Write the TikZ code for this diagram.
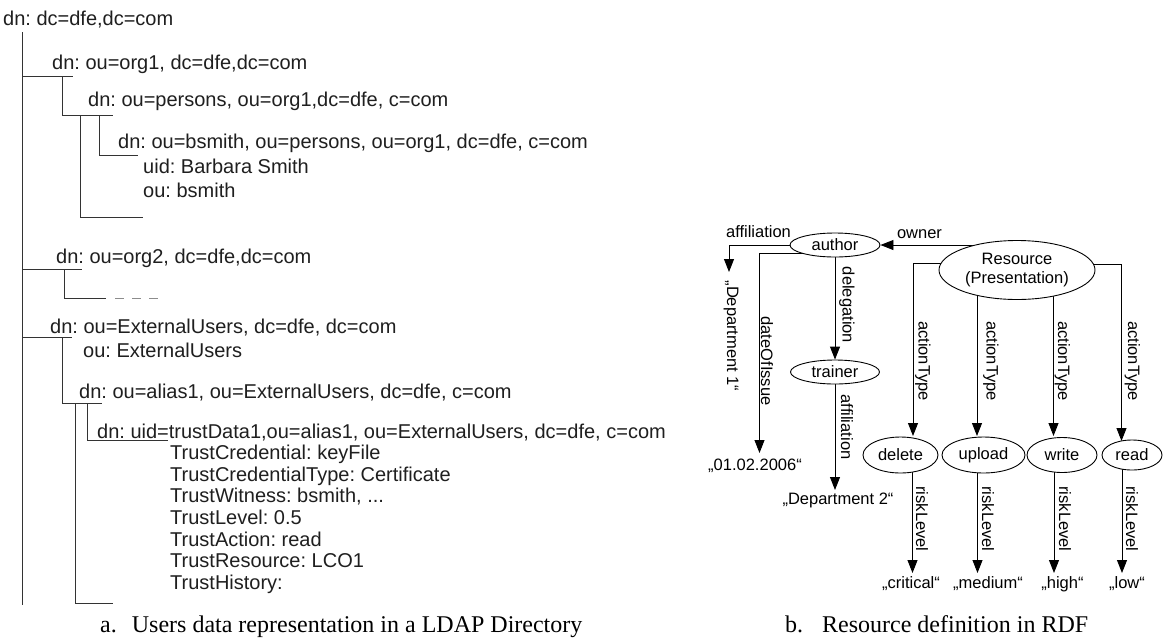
\documentclass[tikz,border=0pt]{standalone}
\usepackage{fontspec}
\setmainfont{Liberation Serif}
\newfontfamily\sansf{Liberation Sans}
\usetikzlibrary{arrows.meta,shapes.geometric,backgrounds}
\frenchspacing
\begin{document}
\begin{tikzpicture}[x=1pt,y=-1pt,
  ltxt/.style={anchor=base west, inner sep=0pt, font=\sansf\frenchspacing\fontsize{20}{24}\selectfont, text=black!88},
  tline/.style={line width=0.9pt, draw=black!80},
  rtxt/.style={inner sep=0pt, font=\sansf\frenchspacing\fontsize{16.5}{19.5}\selectfont},
  rlab/.style={rtxt, rotate=-90},
  ell/.style={ellipse, draw, line width=0.9pt, fill=white, inner sep=0pt, font=\sansf\fontsize{16.5}{19.5}\selectfont},
  arr/.style={line width=0.9pt, -{Triangle[length=13pt,width=10pt]}},
  capt/.style={anchor=base west, inner sep=0pt, font=\frenchspacing\fontsize{24}{28}\selectfont}
]
\begin{scope}[on background layer]
\fill[white] (0,0) rectangle (1163,641);
\end{scope}
\useasboundingbox (0,0) rectangle (1163,641);

% ---------------- left: LDAP tree ----------------
\node[ltxt] (n0) at (3,25) {dn: dc=dfe,dc=com};
\node[ltxt] (n1) at (52,69) {dn: ou=org1, dc=dfe,dc=com};
\node[ltxt] (n2) at (88,106) {dn: ou=persons, ou=org1,dc=dfe, c=com};
\node[ltxt] (n3) at (118,148) {dn: ou=bsmith, ou=persons, ou=org1, dc=dfe, c=com};
\node[ltxt] (n3a) at (143,173) {uid: Barbara Smith};
\node[ltxt] (n3b) at (143,197) {ou: bsmith};
\node[ltxt] (n4) at (56,263) {dn: ou=org2, dc=dfe,dc=com};
\node[ltxt] (n5) at (50,333) {dn: ou=ExternalUsers, dc=dfe, dc=com};
\node[ltxt] (n5a) at (83,357) {ou: ExternalUsers};
\node[ltxt] (n6) at (79,398) {dn: ou=alias1, ou=ExternalUsers, dc=dfe, c=com};
\node[ltxt] (n7) at (97,438) {dn: uid=trustData1,ou=alias1, ou=ExternalUsers, dc=dfe, c=com};
\node[ltxt] (t1) at (170,459) {TrustCredential: keyFile};
\node[ltxt] (t2) at (170,481) {TrustCredentialType: Certificate};
\node[ltxt] (t3) at (170,502) {TrustWitness: bsmith, ...};
\node[ltxt] (t4) at (170,524) {TrustLevel: 0.5};
\node[ltxt] (t5) at (170,546) {TrustAction: read};
\node[ltxt] (t6) at (170,567) {TrustResource: LCO1};
\node[ltxt] (t7) at (170,589) {TrustHistory:};

\draw[tline] (22,32) -- (22,605);
\draw[tline] (22,76) -- (73,76);
\draw[tline] (62,76) -- (62,115) -- (113,115);
\draw[tline] (80,115) -- (80,217) -- (143,217);
\draw[tline] (99,115) -- (99,155) -- (138,155);
\draw[tline] (22,269) -- (82,269);
\draw[tline] (64,269) -- (64,298) -- (106,298);
\draw[tline, draw=black!45, dash pattern=on 9pt off 8pt] (115,298) -- (158,298);
\draw[tline] (22,337) -- (72,337);
\draw[tline] (62,337) -- (62,403) -- (102,403);
\draw[tline] (75,403) -- (75,603) -- (113,603);
\draw[tline] (87,403) -- (87,440) -- (168,440);

\node[capt] (capa) at (100,632) {a.\hspace{15pt}Users data representation in a LDAP Directory};

% ---------------- right: RDF graph ----------------
\node[ell, minimum width=90pt, minimum height=24pt] (author) at (835,245) {author};
\node[ell, minimum width=89pt, minimum height=24pt] (trainer) at (835,372) {trainer};
\node[ell, minimum width=156pt, minimum height=59pt, align=center] (res) at (1017,270) {Resource\\(Presentation)};
\node[ell, minimum width=75pt, minimum height=36pt] (delete) at (900.5,455) {delete};
\node[ell, minimum width=83pt, minimum height=36pt] (upload) at (983.5,455) {upload};
\node[ell, minimum width=70pt, minimum height=35pt] (write) at (1062,455) {write};
\node[ell, minimum width=60pt, minimum height=30pt] (read) at (1132,455) {read};

\node[rlab] (dep1) at (731,336) {„Department 1“};
\node[rtxt] (date) at (755,466) {„01.02.2006“};
\node[rtxt] (dep2) at (838,500) {„Department 2“};
\node[rtxt] (vcrit) at (911,584) {„critical“};
\node[rtxt] (vmed) at (988,584) {„medium“};
\node[rtxt] (vhigh) at (1062.5,584) {„high“};
\node[rtxt] (vlow) at (1127,584) {„low“};

\node[rtxt] (laff1) at (758.5,232) {affiliation};
\node[rtxt] (lown) at (919.5,234.5) {owner};
\node[rlab] (ldoi) at (767,361) {dateOfIssue};
\node[rlab] (ldel) at (847,305) {delegation};
\node[rlab] (laff2) at (847,427) {affiliation};
\node[rlab] (lat1) at (923,361) {actionType};
\node[rlab] (lat2) at (991,361) {actionType};
\node[rlab] (lat3) at (1062.5,361) {actionType};
\node[rlab] (lat4) at (1132.5,361) {actionType};
\node[rlab] (lrl1) at (922,519) {riskLevel};
\node[rlab] (lrl2) at (988,519) {riskLevel};
\node[rlab] (lrl3) at (1065,519) {riskLevel};
\node[rlab] (lrl4) at (1132,519) {riskLevel};

\node[capt] (capb) at (785,632) {b.\hspace{19pt}Resource definition in RDF};

\coordinate (d1tip) at (729,272);
\coordinate (dk) at (759.5,253);
\coordinate (dtip) at (759.5,453);
\coordinate (t2tip) at (835,490);
\coordinate (k1) at (913,263);
\coordinate (ac1) at (913,436);
\coordinate (ac2) at (977,436);
\coordinate (ac3) at (1053.5,436);
\coordinate (k4) at (1121.5,264);
\coordinate (ac4) at (1121.5,441);
\coordinate (rc1) at (912.5,573);
\coordinate (rc2) at (977.5,573);
\coordinate (rc3) at (1054,573);
\coordinate (rc4) at (1122,573);

\begin{scope}[on background layer]
\draw[arr] (author.center) -| (d1tip);
\draw[arr] (dk -| author.center) -- (dk) -- (dtip);
\draw[arr] (author) -- (trainer);
\draw[arr] (trainer) -- (t2tip);
\draw[arr] (res.center |- author.center) -- (author.east);
\draw[arr] (k1 -| res.center) -- (k1) -- (ac1);
\draw[arr] (ac2 |- res.center) -- (ac2);
\draw[arr] (ac3 |- res.center) -- (ac3);
\draw[arr] (k4 -| res.center) -- (k4) -- (ac4);
\draw[arr] (rc1 |- delete.center) -- (rc1);
\draw[arr] (rc2 |- upload.center) -- (rc2);
\draw[arr] (rc3 |- write.center) -- (rc3);
\draw[arr] (rc4 |- read.center) -- (rc4);
\end{scope}
\end{tikzpicture}
\end{document}
